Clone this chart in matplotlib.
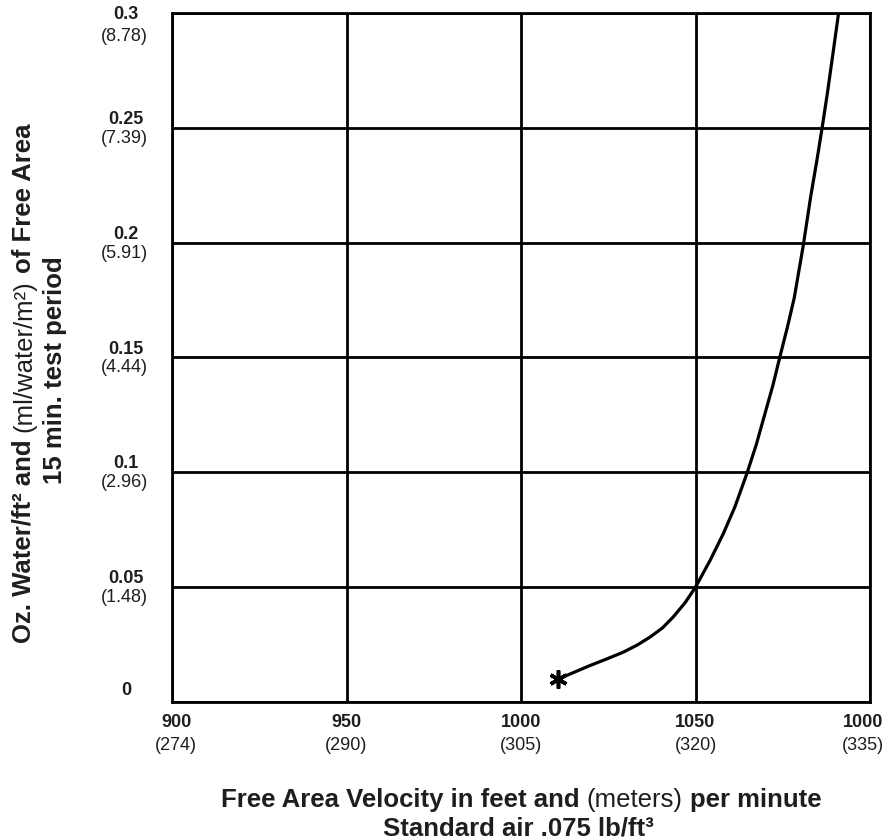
import matplotlib
matplotlib.use("Agg")
import matplotlib.pyplot as plt

# axis ticks (imperial value, metric value in brackets)
x_ticks = [900, 950, 1000, 1050, 1100]
x_tick_labels = ["900", "950", "1000", "1050", "1000"]
x_metric_labels = ["(274)", "(290)", "(305)", "(320)", "(335)"]

y_ticks = [0, 0.05, 0.1, 0.15, 0.2, 0.25, 0.3]
y_tick_labels = ["0", "0.05", "0.1", "0.15", "0.2", "0.25", "0.3"]
y_metric_labels = ["", "(1.48)", "(2.96)", "(4.44)", "(5.91)", "(7.39)", "(8.78)"]

# curve: velocity (ft/min) vs oz water / ft2
velocity = [1010.7, 1015.0, 1019.8, 1024.5, 1029.3, 1033.3, 1037.0, 1040.5,
            1043.6, 1047.0, 1050.0, 1054.2, 1058.0, 1061.3, 1064.8, 1067.4,
            1069.8, 1072.2, 1074.2, 1076.3, 1078.3, 1080.9, 1083.0, 1084.8,
            1086.3, 1087.8, 1089.4, 1091.0]
water = [0.010, 0.0128, 0.0159, 0.0187, 0.0217, 0.0248, 0.0283, 0.0322,
         0.0370, 0.0432, 0.0500, 0.0617, 0.0734, 0.0850, 0.0998, 0.1120,
         0.1250, 0.1380, 0.1504, 0.1630, 0.1760, 0.1990, 0.2200, 0.2360,
         0.2502, 0.2652, 0.2825, 0.3000]

BASE_FONT = "Liberation Sans"
TITLE_SIZE = 18.5
TICK_SIZE = 13
INK = "#1e1e1e"

plt.rcParams["font.family"] = [BASE_FONT, "DejaVu Sans"]

fig = plt.figure(figsize=(8.9, 8.4), dpi=100)
ax = fig.add_axes([172 / 890, 1 - 702 / 840, 698 / 890, 689 / 840])

ax.plot(velocity, water, color="black", lw=2.3, solid_capstyle="round", solid_joinstyle="round")
ax.plot(velocity[0], water[0], marker=(6, 2, 0), ms=13, mew=2.6, color="black")

ax.set_xlim(900, 1100)
ax.set_ylim(0, 0.3)
ax.set_xticks(x_ticks)
ax.set_yticks(y_ticks)
ax.tick_params(length=0, labelbottom=False, labelleft=False)
ax.grid(True, color="black", lw=2.0)
for sp in ax.spines.values():
    sp.set_linewidth(2.0)

# tick labels: bold value with metric value below
xtr = ax.get_xaxis_transform()
for i, (v, lab, met) in enumerate(zip(x_ticks, x_tick_labels, x_metric_labels)):
    # the outer labels sit slightly inside, as in the original
    shift = 3 if i == 0 else (-5 if i == len(x_ticks) - 1 else 0)
    ax.annotate(lab, xy=(v, 0), xycoords=xtr, xytext=(shift, -15), textcoords="offset points",
                ha="center", va="center", fontsize=TICK_SIZE, fontweight="bold", color=INK)
    ax.annotate(met, xy=(v, 0), xycoords=xtr, xytext=(shift, -31.5), textcoords="offset points",
                ha="center", va="center", fontsize=TICK_SIZE, color=INK)

ytr = ax.get_yaxis_transform()
for v, lab, met in zip(y_ticks, y_tick_labels, y_metric_labels):
    if v == y_ticks[0]:
        off_b, off_m = 8, None
    elif v == y_ticks[-1]:
        off_b, off_m = -1, -17
    else:
        off_b, off_m = 6, -7.5
    ax.annotate(lab, xy=(0, v), xycoords=ytr, xytext=(-33, off_b), textcoords="offset points",
                ha="center", va="center", fontsize=TICK_SIZE, fontweight="bold", color=INK)
    if off_m is not None:
        ax.annotate(met, xy=(0, v), xycoords=ytr, xytext=(-34, off_m), textcoords="offset points",
                    ha="center", va="center", fontsize=TICK_SIZE, color=INK)


def rich_line(x, y, parts, rotation=0):
    """Place pieces of mixed-weight text one after another, centred on (x, y)."""
    gap = 0.28 * TITLE_SIZE
    first = fig.text(x, y, parts[0][0], rotation=rotation, fontsize=TITLE_SIZE,
                     fontweight=parts[0][1], ha="left", va="bottom", color=INK)
    texts = [first]
    for s, w in parts[1:]:
        prev = texts[-1]
        if rotation:
            t = ax.annotate(s, xy=(0, 1), xycoords=prev, xytext=(0, gap), textcoords="offset points",
                            rotation=rotation, ha="left", va="bottom", fontsize=TITLE_SIZE,
                            fontweight=w, color=INK, annotation_clip=False)
        else:
            t = ax.annotate(s, xy=(1, 0), xycoords=prev, xytext=(gap, 0), textcoords="offset points",
                            ha="left", va="bottom", fontsize=TITLE_SIZE, fontweight=w,
                            color=INK, annotation_clip=False)
        texts.append(t)
    fig.canvas.draw()
    r = fig.canvas.get_renderer()
    boxes = [t.get_window_extent(r) for t in texts]
    x0 = min(b.x0 for b in boxes)
    x1 = max(b.x1 for b in boxes)
    y0 = min(b.y0 for b in boxes)
    y1 = max(b.y1 for b in boxes)
    W, H = fig.bbox.width, fig.bbox.height
    dx = x * W - (x0 + x1) / 2
    dy = y * H - (y0 + y1) / 2
    px, py = first.get_position()
    first.set_position((px + dx / W, py + dy / H))


rich_line(521 / 890, 1 - 800 / 840,
          [("Free Area Velocity in feet and", "bold"), ("(meters)", "normal"), ("per minute", "bold")])
rich_line(518 / 890, 1 - 829 / 840, [("Standard air .075 lb/ft\u00b3", "bold")])

rich_line(24 / 890, 1 - 383 / 840,
          [("Oz. Water/ft\u00b2 and", "bold"), ("(ml/water/m\u00b2)", "normal"), ("of Free Area", "bold")],
          rotation=90)
rich_line(55 / 890, 1 - 370 / 840, [("15 min. test period", "bold")], rotation=90)

fig.savefig("out.png", dpi=100)
